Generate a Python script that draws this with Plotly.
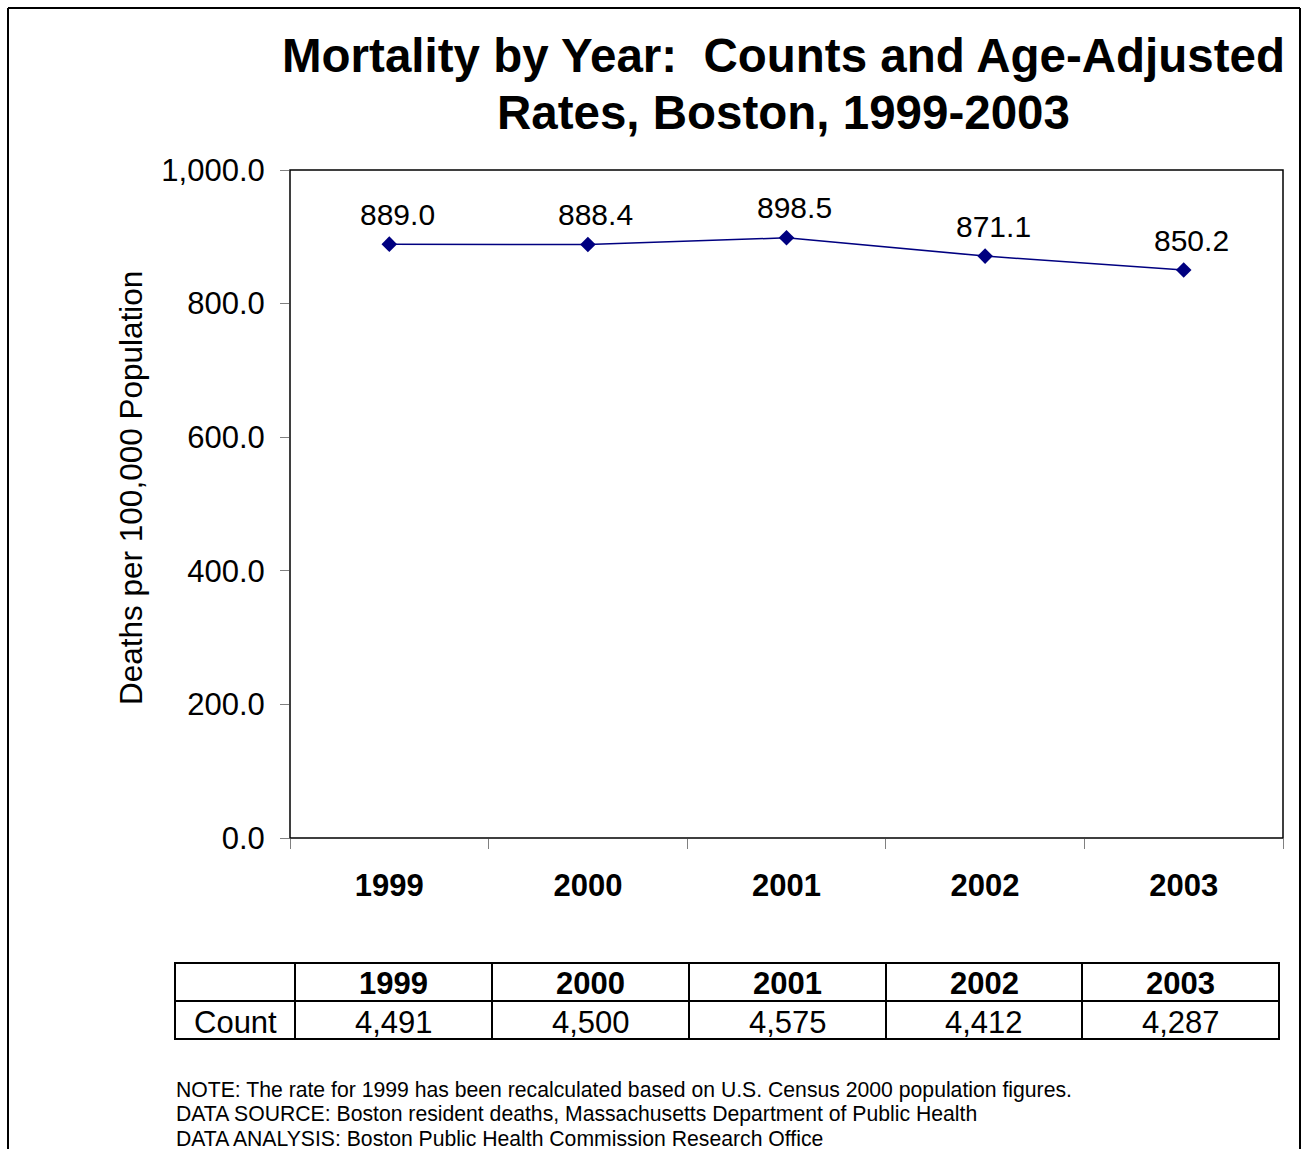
import plotly.graph_objects as go

years = ["1999", "2000", "2001", "2002", "2003"]
rates = [889.0, 888.4, 898.5, 871.1, 850.2]
counts = ["4,491", "4,500", "4,575", "4,412", "4,287"]
row_label = "Count"
y_ticks = [0, 200, 400, 600, 800, 1000]
title_lines = ["Mortality by Year:  Counts and Age-Adjusted", "Rates, Boston, 1999-2003"]
y_title = "Deaths per 100,000 Population"
notes = [
    "NOTE: The rate for 1999 has been recalculated based on U.S. Census 2000 population figures.",
    "DATA SOURCE: Boston resident deaths, Massachusetts Department of Public Health",
    "DATA ANALYSIS: Boston Public Health Commission Research Office",
]

W, H = 1305, 1149
FONT = "Liberation Sans, Arial, sans-serif"
NAVY = "#000080"


def px(x):
    return x / W


def py(y):
    return 1 - y / H


fig = go.Figure()
fig.add_trace(go.Scatter(
    x=years, y=rates, mode="lines+markers",
    line=dict(color=NAVY, width=1.5),
    marker=dict(symbol="diamond", size=12, color=NAVY),
    cliponaxis=False, showlegend=False, hoverinfo="skip",
))
# data labels (category axis: position by category index)
for i, v in enumerate(rates):
    fig.add_annotation(x=i, y=v, xref="x", yref="y", text=f"{v:.1f}",
                       showarrow=False, xshift=8, yshift=30,
                       xanchor="center", yanchor="middle",
                       font=dict(family=FONT, size=30, color="black"))

fig.update_layout(
    width=W, height=H, margin=dict(l=0, r=0, t=0, b=0, autoexpand=False),
    paper_bgcolor="white", plot_bgcolor="white",
    font=dict(family=FONT, color="black"),
    xaxis=dict(domain=[px(290), px(1283)], type="category", automargin=False,
               range=[-0.5, 4.5], tickson="boundaries", ticks="outside",
               ticklen=10, tickcolor="#808080", showgrid=False, zeroline=False,
               showline=False, ticklabelstandoff=26,
               tickfont=dict(family=FONT, size=31, color="black", weight="bold")),
    yaxis=dict(domain=[py(838), py(170)], range=[0, 1000], tickvals=y_ticks,
               automargin=False,
               tickformat=",.1f", ticks="outside", ticklen=9, tickcolor="#808080",
               ticklabelstandoff=9,
               showgrid=False, zeroline=False, showline=False,
               tickfont=dict(family=FONT, size=31, color="black")),
)

# plot area frame
fig.add_shape(type="rect", xref="paper", yref="paper",
              x0=px(290), x1=px(1283), y0=py(838), y1=py(170),
              line=dict(color="black", width=1.5))
# outer chart border (left, top, right)
for x0, y0, x1, y1 in [(8, 8, 8, H), (8, 8, 1300, 8), (1300, 8, 1300, H)]:
    fig.add_shape(type="line", xref="paper", yref="paper",
                  x0=px(x0), y0=py(y0), x1=px(x1), y1=py(y1),
                  line=dict(color="black", width=2))

# title
for i, t in enumerate(title_lines):
    fig.add_annotation(text=f"<b>{t}</b>", xref="paper", yref="paper",
                       x=px(783), y=py(56 + 57 * i), showarrow=False,
                       font=dict(family=FONT, size=47.5, color="black"),
                       xanchor="center", yanchor="middle")
fig.add_annotation(text=y_title, xref="paper", yref="paper",
                   x=px(131), y=py(488), showarrow=False, textangle=-90,
                   font=dict(family=FONT, size=31.5, color="black"),
                   xanchor="center", yanchor="middle")

# data table below the chart
col_edges = [175, 295, 492, 689, 886, 1082, 1279]
row_edges = [963, 1001, 1039]
fig.add_shape(type="rect", xref="paper", yref="paper",
              x0=px(col_edges[0]), x1=px(col_edges[-1]),
              y0=py(row_edges[-1]), y1=py(row_edges[0]),
              line=dict(color="black", width=2))
for xe in col_edges[1:-1]:
    fig.add_shape(type="line", xref="paper", yref="paper",
                  x0=px(xe), x1=px(xe), y0=py(row_edges[-1]), y1=py(row_edges[0]),
                  line=dict(color="black", width=2))
fig.add_shape(type="line", xref="paper", yref="paper",
              x0=px(col_edges[0]), x1=px(col_edges[-1]),
              y0=py(row_edges[1]), y1=py(row_edges[1]),
              line=dict(color="black", width=2))
header_cells = [""] + [f"<b>{y}</b>" for y in years]
body_cells = [row_label] + counts
for r, row in enumerate([header_cells, body_cells]):
    yc = (row_edges[r] + row_edges[r + 1]) / 2 + 2
    for c, txt in enumerate(row):
        if not txt:
            continue
        xc = (col_edges[c] + col_edges[c + 1]) / 2
        fig.add_annotation(text=txt, xref="paper", yref="paper",
                           x=px(xc), y=py(yc), showarrow=False,
                           font=dict(family=FONT, size=31, color="black"),
                           xanchor="center", yanchor="middle")

for i, n in enumerate(notes):
    fig.add_annotation(text=n, xref="paper", yref="paper",
                       x=px(174), y=py(1090 + 24 * i), showarrow=False,
                       font=dict(family=FONT, size=21.2, color="black"),
                       xanchor="left", yanchor="middle", align="left")

fig.write_html("out.html", config={"displayModeBar": False},
               post_script="document.body.style.margin='0px';document.body.style.padding='0px';")
